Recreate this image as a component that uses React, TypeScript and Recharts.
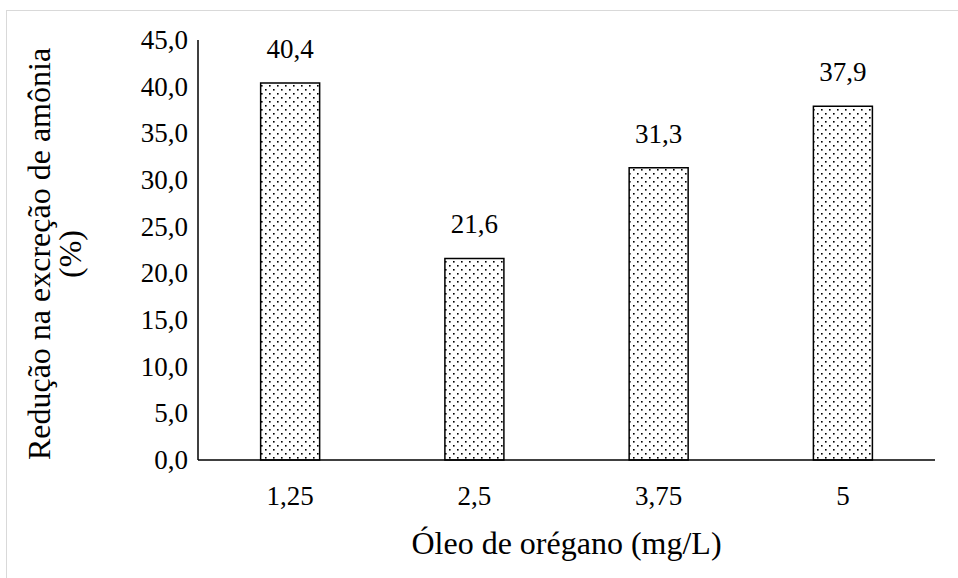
import { BarChart, Bar, XAxis, YAxis, LabelList, Label } from 'recharts';

const doses = ['1,25', '2,5', '3,75', '5'];
const reductions = [40.4, 21.6, 31.3, 37.9];
const yTicks = [0, 5, 10, 15, 20, 25, 30, 35, 40, 45];

const data = doses.map((dose, i) => ({ dose, value: reductions[i] }));

const FONT = '"Liberation Serif", "Times New Roman", serif';
const fmt = (v: number) => v.toFixed(1).replace('.', ',');
const textStyle = { fontFamily: FONT, fontSize: 27, fill: '#000' };
const titleStyle = { ...textStyle, fontSize: 32 };

const YTitle = ({ viewBox }: any) => {
  const cy = viewBox.y + viewBox.height / 2 + 4;
  return (
    <g>
      <text x={39} y={cy} textAnchor="middle" dominantBaseline="central" transform={`rotate(-90, 39, ${cy})`} style={titleStyle}>
        Redução na excreção de amônia
      </text>
      <text x={70} y={cy} textAnchor="middle" dominantBaseline="central" transform={`rotate(-90, 70, ${cy})`} style={titleStyle}>
        (%)
      </text>
    </g>
  );
};

const XTitle = ({ viewBox }: any) => {
  const cx = viewBox.x + viewBox.width / 2;
  return (
    <text x={cx} y={543} textAnchor="middle" dominantBaseline="central" style={titleStyle}>
      Óleo de orégano (mg/L)
    </text>
  );
};

const Tick = ({ x, y, payload, anchor, formatter }: any) => (
  <text x={x} y={y} textAnchor={anchor} dominantBaseline="central" style={textStyle}>
    {formatter ? formatter(payload.value) : payload.value}
  </text>
);

const ValueLabel = ({ x, y, width, value }: any) => (
  <text x={x + width / 2} y={y - 34} textAnchor="middle" dominantBaseline="central" style={textStyle}>
    {fmt(Number(value))}
  </text>
);

export default function App() {
  return (
    <div style={{ position: 'absolute', left: 0, top: 0, width: 958, height: 578, background: '#fff', overflow: 'hidden' }}>
      {/* dotted fill for the bars */}
      <svg width={0} height={0} style={{ position: 'absolute' }}>
        <defs>
          <pattern id="dots" width={8} height={8} patternUnits="userSpaceOnUse">
            <rect width={8} height={8} fill="#fff" />
            <rect x={1} y={1} width={1.6} height={1.6} fill="#000" />
            <rect x={5} y={5} width={1.6} height={1.6} fill="#000" />
          </pattern>
        </defs>
      </svg>
      <div style={{ position: 'absolute', left: 6, top: 10, width: 970, height: 590, border: '1.5px solid #d9d9d9' }} />
      <BarChart
        width={958}
        height={578}
        data={data}
        margin={{ top: 40, right: 23, left: 118, bottom: 58 }}
        barCategoryGap="34%"
        style={{ position: 'absolute', left: 0, top: 0 }}
      >
        <XAxis
          dataKey="dose"
          axisLine={{ stroke: '#000', strokeWidth: 1.5 }}
          tickLine={false}
          tickSize={0}
          height={60}
          tick={(p: any) => <Tick {...p} y={496} anchor="middle" />}
        >
          <Label content={<XTitle />} />
        </XAxis>
        <YAxis
          domain={[0, 45]}
          ticks={yTicks}
          interval={0}
          width={80}
          axisLine={{ stroke: '#000', strokeWidth: 1.5 }}
          tickLine={false}
          tickSize={0}
          tick={(p: any) => <Tick {...p} x={188} anchor="end" formatter={fmt} />}
        >
          <Label content={<YTitle />} />
        </YAxis>
        <Bar dataKey="value" fill="url(#dots)" stroke="#000" strokeWidth={1.5} isAnimationActive={false}>
          <LabelList dataKey="value" content={<ValueLabel />} />
        </Bar>
      </BarChart>
    </div>
  );
}
